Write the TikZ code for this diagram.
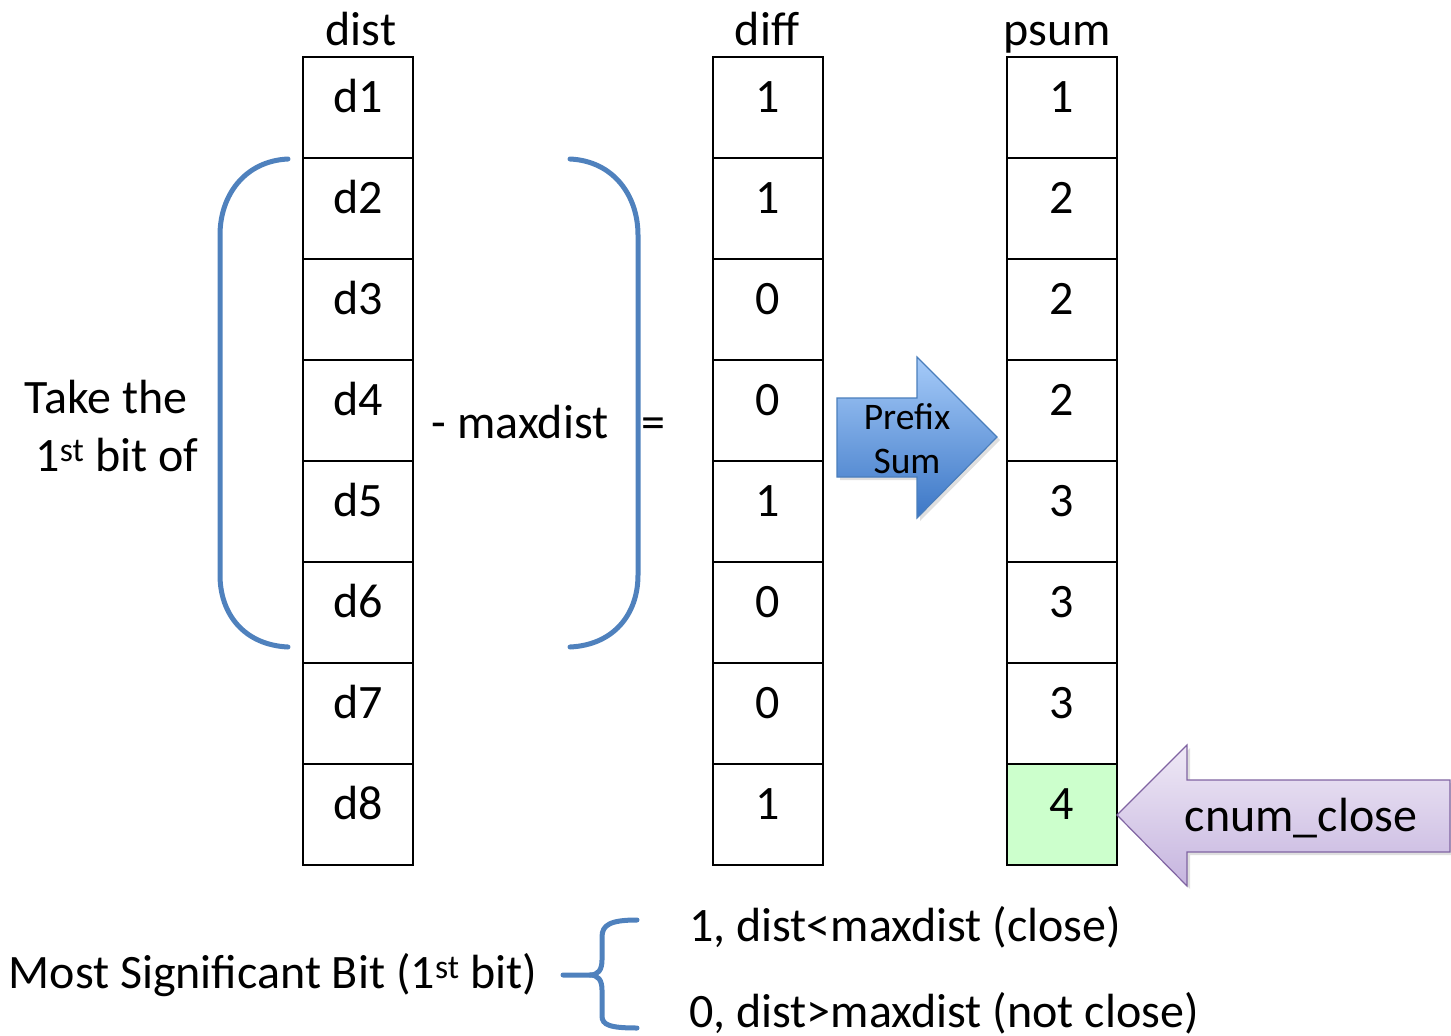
\documentclass[tikz,border=0pt]{standalone}
\usepackage{fontspec}
\setmainfont{Carlito}
\usetikzlibrary{shadows}
\definecolor{braceblue}{HTML}{4F81BD}
\definecolor{arrowtop}{HTML}{A6CBF9}
\definecolor{arrowbot}{HTML}{3C77C6}
\definecolor{arrowline}{HTML}{4A7EBB}
\definecolor{lavtop}{HTML}{EFE9F6}
\definecolor{lavbot}{HTML}{C6B5DF}
\definecolor{lavline}{HTML}{8064A2}
\definecolor{hitgreen}{HTML}{CCFFCC}
\tikzset{
  cell/.style={draw=black, line width=2.5pt, minimum width=110pt, minimum height=101pt,
    inner sep=0pt, text height=33pt, text depth=24pt,
    font=\fontsize{48}{58}\selectfont},
  head/.style={anchor=base, inner sep=0pt, font=\fontsize{48}{58}\selectfont},
  txt/.style={anchor=base, inner sep=0pt, font=\fontsize{48}{58}\selectfont},
  bracket/.style={draw=braceblue, line width=5pt, line cap=round},
  fatarrow/.style={line width=1.2pt, drop shadow={opacity=0.25, shadow xshift=3pt, shadow yshift=-3pt}},
}
\begin{document}
\begin{tikzpicture}[x=1pt, y=-1pt]
\useasboundingbox (0,0) rectangle (1451,1036);

% column headers
\node[head] (hdist) at (361,45) {dist};
\node[head] (hdiff) at (767,45) {diff};
\node[head] (hpsum) at (1057,45) {psum};

% the three columns of cells
\foreach \v [count=\i] in {d1,d2,d3,d4,d5,d6,d7,d8}
  \node[cell] (dist\i) at (358,{57+101*(\i-1)+50.5}) {\v};
\foreach \v [count=\i] in {1,1,0,0,1,0,0,1}
  \node[cell] (diff\i) at (768,{57+101*(\i-1)+50.5}) {\v};
\foreach \v [count=\i] in {1,2,2,2,3,3,3}
  \node[cell] (psum\i) at (1062,{57+101*(\i-1)+50.5}) {\v};
\node[cell, fill=hitgreen] (psum8) at (1062,{57+101*7+50.5}) {4};

% large round brackets around d2..d6
\draw[bracket] (288,159) .. controls (245,161) and (220,195) .. (220,235)
  -- (220,575) .. controls (220,615) and (245,645) .. (288,647);
\draw[bracket] (570,159) .. controls (613,161) and (638,195) .. (638,235)
  -- (638,575) .. controls (638,615) and (613,645) .. (570,647);

\node[txt] (takethe) at (106,413) {Take the};
\node[txt] (firstbit) at (117,471) {1\textsuperscript{st} bit of};
\node[txt] (minus) at (520,438) {- maxdist};
\node[txt] (equals) at (653,438) {=};

% Prefix Sum block arrow
\path[fatarrow, top color=arrowtop, bottom color=arrowbot, draw=arrowline]
  (837,398) -- (917,398) -- (917,357) -- (997,437) -- (917,518) -- (917,477) -- (837,477) -- cycle;
\node[txt, font=\fontsize{37.5}{45}\selectfont] (prefix) at (907,429) {Prefix};
\node[txt, font=\fontsize{37.5}{45}\selectfont] (sum) at (907,473) {Sum};

% cnum_close block arrow pointing at the last psum cell
\path[fatarrow, top color=lavtop, bottom color=lavbot, draw=lavline]
  (1117,815) -- (1187,745) -- (1187,780) -- (1450,780) -- (1450,852) -- (1187,852) -- (1187,886) -- cycle;
\node[txt, font=\fontsize{48}{58}\selectfont] (cnum) at (1301,831) {cnum\_close};

% legend for the most significant bit
\node[txt] (msb) at (273,988) {Most Significant Bit (1\textsuperscript{st} bit)};
\draw[bracket] (563,975) -- (590,975) .. controls (598,975) and (602,970) .. (602,960)
  -- (602,937) .. controls (602,925) and (610,920) .. (637,920);
\draw[bracket] (590,975) .. controls (598,975) and (602,980) .. (602,990)
  -- (602,1016) .. controls (602,1025) and (610,1028) .. (637,1028);
\node[txt, anchor=base west] (closeline) at (689,941) {1, dist<maxdist (close)};
\node[txt, anchor=base west] (notcloseline) at (689,1027) {0, dist>maxdist (not close)};
\end{tikzpicture}
\end{document}
